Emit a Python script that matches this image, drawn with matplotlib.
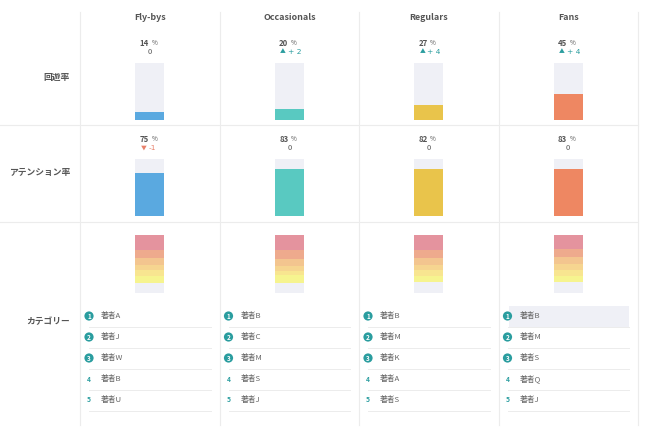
import matplotlib
matplotlib.use("Agg")
import matplotlib.pyplot as plt
from matplotlib.patches import Circle, Rectangle

plt.rcParams['font.family'] = ['Noto Sans CJK JP', 'DejaVu Sans']

# ---------------- data ----------------
segments = ["Fly-bys", "Occasionals", "Regulars", "Fans"]
row_labels = ["回遊率", "アテンション率", "カテゴリー"]
seg_colors = ["#5aa9e0", "#59c9c1", "#e9c44b", "#ee8762"]

kaiyu_rate = [14, 20, 27, 45]
kaiyu_change = [0, 2, 4, 4]
attention_rate = [75, 83, 82, 83]
attention_change = [-1, 0, 0, 0]

# category shares (top to bottom), remainder is grey
cat_colors = ["#e4939e", "#eeaa8d", "#f3c58f", "#f6d590", "#f8e590", "#f6f48f"]
cat_shares = [
    [26, 13, 13, 9, 9, 12],
    [26, 15, 13, 8, 7, 13],
    [25, 14, 13, 9, 9, 11],
    [25, 13, 12, 10, 10, 11],
]

top_authors = [
    ["著者A", "著者J", "著者W", "著者B", "著者U"],
    ["著者B", "著者C", "著者M", "著者S", "著者J"],
    ["著者B", "著者M", "著者K", "著者A", "著者S"],
    ["著者B", "著者M", "著者S", "著者Q", "著者J"],
]
highlight = (3, 0)  # (column, rank index) highlighted

# ---------------- layout ----------------
W, H = 650, 433
fig = plt.figure(figsize=(W / 100, H / 100), dpi=100)
ax0 = fig.add_axes([0, 0, 1, 1])
ax0.set_xlim(0, W)
ax0.set_ylim(H, 0)
ax0.axis("off")

col_edges = [80, 219.5, 359, 498.5, 638]
line_c = "#ececec"
text_c = "#555555"
list_c = "#666666"
teal = "#2a9d9f"
red = "#e8806a"
bg_grey = "#eff0f6"

for x in col_edges:
    ax0.plot([x, x], [12, 425], color=line_c, lw=0.8)
for y in [125, 221.5]:
    ax0.plot([0, 638], [y, y], color=line_c, lw=0.8)

# row labels
row_label_y = [77, 173, 322]
for lab, y in zip(row_labels, row_label_y):
    ax0.text(70, y, lab, ha="right", va="center", fontsize=6.3,
             color=text_c, fontweight="bold")


def pix_axes(x0, y0, w, h):
    a = fig.add_axes([x0 / W, 1 - (y0 + h) / H, w / W, h / H])
    a.axis("off")
    a.set_xlim(-0.5, 0.5)
    a.set_ylim(0, 100)
    return a


def pct_text(cx, y, val, chg):
    ax0.text(cx - 1, y, f"{val}", ha="right", va="center", fontsize=5.6,
             color=text_c, fontweight="bold")
    ax0.text(cx + 1.5, y + 0.3, "%", ha="left", va="center", fontsize=4.6,
             color=text_c)
    yy = y + 9
    if chg == 0:
        ax0.text(cx, yy, "0", ha="center", va="center", fontsize=5.4, color=text_c)
    elif chg > 0:
        ax0.text(cx - 6, yy, "▲", ha="center", va="center", fontsize=4.2, color=teal)
        ax0.text(cx - 1.5, yy, f"+ {chg}", ha="left", va="center", fontsize=5.4,
                 color=teal, family="DejaVu Sans")
    else:
        ax0.text(cx - 6, yy, "▼", ha="center", va="center", fontsize=4.2, color=red)
        ax0.text(cx - 1.5, yy, f"{chg}", ha="left", va="center", fontsize=5.4,
                 color=red, family="DejaVu Sans")


bar_w = 29
for i, seg in enumerate(segments):
    left, right = col_edges[i], col_edges[i + 1]
    cx = (left + right) / 2
    ax0.text(cx, 18, seg, ha="center", va="center", fontsize=6.4,
             color=text_c, fontweight="bold")

    # row 1 : kaiyu rate
    pct_text(cx, 43, kaiyu_rate[i], kaiyu_change[i])
    a = pix_axes(cx - bar_w / 2, 63, bar_w, 57)
    a.bar([0], [100], width=1, color=bg_grey)
    a.bar([0], [kaiyu_rate[i]], width=1, color=seg_colors[i])

    # row 2 : attention rate
    pct_text(cx, 139, attention_rate[i], attention_change[i])
    a = pix_axes(cx - bar_w / 2, 159, bar_w, 57)
    a.bar([0], [100], width=1, color=bg_grey)
    a.bar([0], [attention_rate[i]], width=1, color=seg_colors[i])

    # row 3 : category stack
    a = pix_axes(cx - bar_w / 2, 235, bar_w, 58)
    a.bar([0], [100], width=1, color=bg_grey)
    top = 100
    for share, c in zip(cat_shares[i], cat_colors):
        a.bar([0], [share], bottom=top - share, width=1, color=c)
        top -= share

    # ranking list
    for r, name in enumerate(top_authors[i]):
        y = 316 + r * 21
        if (i, r) == highlight:
            ax0.add_patch(Rectangle((left + 10, y - 10), right - left - 19, 21,
                                    facecolor=bg_grey, edgecolor="none", zorder=0))
        bx = left + 9
        if r < 3:
            ax0.add_patch(Circle((bx, y), 4.6, facecolor=teal, edgecolor="none", zorder=2))
            ax0.text(bx, y + 0.2, str(r + 1), ha="center", va="center", fontsize=4.6,
                     color="white", fontweight="bold", zorder=3)
        else:
            ax0.text(bx, y, str(r + 1), ha="center", va="center", fontsize=4.8,
                     color=teal, fontweight="bold")
        ax0.text(left + 21, y, name, ha="left", va="center", fontsize=5.6, color=list_c)
        ax0.plot([left + 9, right - 9], [y + 11, y + 11], color=line_c, lw=0.7)

fig.savefig("out.png", dpi=100)
